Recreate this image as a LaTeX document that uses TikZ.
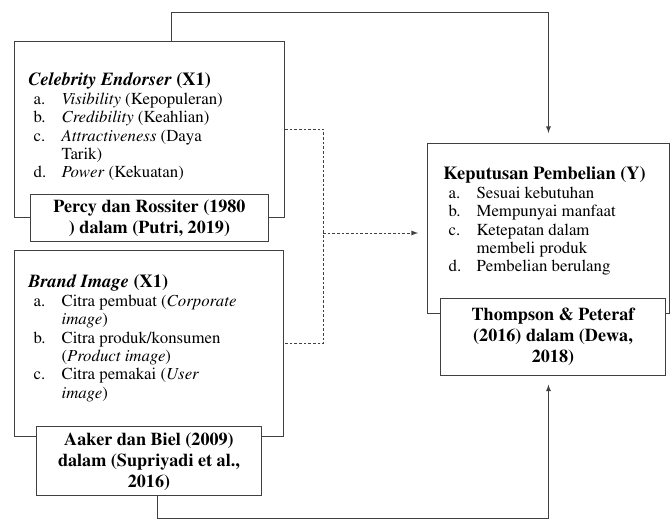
\documentclass[tikz,border=0pt]{standalone}
\usepackage[T1]{fontenc}
\renewcommand{\rmdefault}{ptm}
\usetikzlibrary{shapes, arrows, positioning}
\newcommand{\itm}[1]{\hspace*{4pt}\makebox[21pt][l]{#1}}
\newcommand{\cnt}{\hspace*{25pt}}
\newcommand{\hdr}[1]{{\fontsize{13.8}{13.8}\selectfont\bfseries #1}}
\tikzstyle{varbox} = [rectangle, draw=black!75, line width=0.7pt, anchor=north west, inner sep=0pt]
\tikzstyle{vartext} = [anchor=north west, align=left, inner sep=0pt]
\tikzstyle{refbox} = [rectangle, draw=black!75, line width=0.7pt, fill=white, align=center, inner sep=0pt, font=\fontsize{13.6}{15.8}\selectfont\bfseries]
\tikzstyle{arrow} = [draw=black!75, line width=0.7pt, ->, >=latex]
\tikzstyle{dashline} = [draw=black!75, line width=0.7pt, dash pattern=on 2pt off 1.5pt]

\begin{document}
\begin{tikzpicture}[x=0.75pt, y=-0.75pt, every node/.style={font=\fontsize{12.6}{13.8}\selectfont}]
    \useasboundingbox (0,0) rectangle (671,523);
    % Nodes
    \node (celeb) [varbox, minimum width=202.5pt, minimum height=132pt] at (14,41) {};
    \node (celebtxt) [vartext] at (28,73) {\hdr{\textit{Celebrity Endorser} (X1)}\\
        \itm{a.}\textit{Visibility} (Kepopuleran)\\
        \itm{b.}\textit{Credibility} (Keahlian)\\
        \itm{c.}\textit{Attractiveness} (Daya\\
        \cnt Tarik)\\
        \itm{d.}\textit{Power} (Kekuatan)};
    \node (percy) [refbox, minimum width=178.5pt, minimum height=35.25pt] at (celeb.south) {Percy dan Rossiter (1980\\) dalam (Putri, 2019)};

    \node (brand) [varbox, minimum width=201.75pt, minimum height=139.5pt] at (14,250) {};
    \node (brandtxt) [vartext] at (28,275) {\hdr{\textit{Brand Image} (X1)}\\
        \itm{a.}Citra pembuat (\textit{Corporate}\\
        \cnt\textit{image})\\
        \itm{b.}Citra produk/konsumen\\
        \cnt(\textit{Product image})\\
        \itm{c.}Citra pemakai (\textit{User}\\
        \cnt\textit{image})};
    \node (aaker) [refbox, minimum width=168.75pt, minimum height=51.75pt, yshift=-18.4pt] at (brand.south) {Aaker dan Biel (2009)\\dalam (Supriyadi et al.,\\2016)};

    \node (kep) [varbox, minimum width=181.5pt, minimum height=127.5pt] at (427,143) {};
    \node (keptxt) [vartext] at (443,167) {\hdr{Keputusan Pembelian (Y)}\\
        \itm{a.}Sesuai kebutuhan\\
        \itm{b.}Mempunyai manfaat\\
        \itm{c.}Ketepatan dalam\\
        \cnt membeli produk\\
        \itm{d.}Pembelian berulang};
    \node (thompson) [refbox, minimum width=168.75pt, minimum height=57.75pt, xshift=3.4pt, yshift=-17pt] at (kep.south) {Thompson \& Peteraf\\(2016) dalam (Dewa,\\2018)};

    \coordinate (topjoin) at (171,41);
    \coordinate (botjoin) at (157,495);
    \coordinate (split) at (323,233);

    % Arrows
    \draw [arrow, shorten >=7.5pt] (topjoin) -- ++(0,-29) -| (kep.north);
    \draw [arrow, shorten >=6.75pt] (botjoin) -- ++(0,23) -| (kep.south |- thompson.south);
    \draw [dashline] (celeb.east) -- ++(39,0) |- (brand.east);
    \draw [dashline, ->, >=latex, shorten >=6.75pt] (split) -- (split -| kep.west);
\end{tikzpicture}
\end{document}
